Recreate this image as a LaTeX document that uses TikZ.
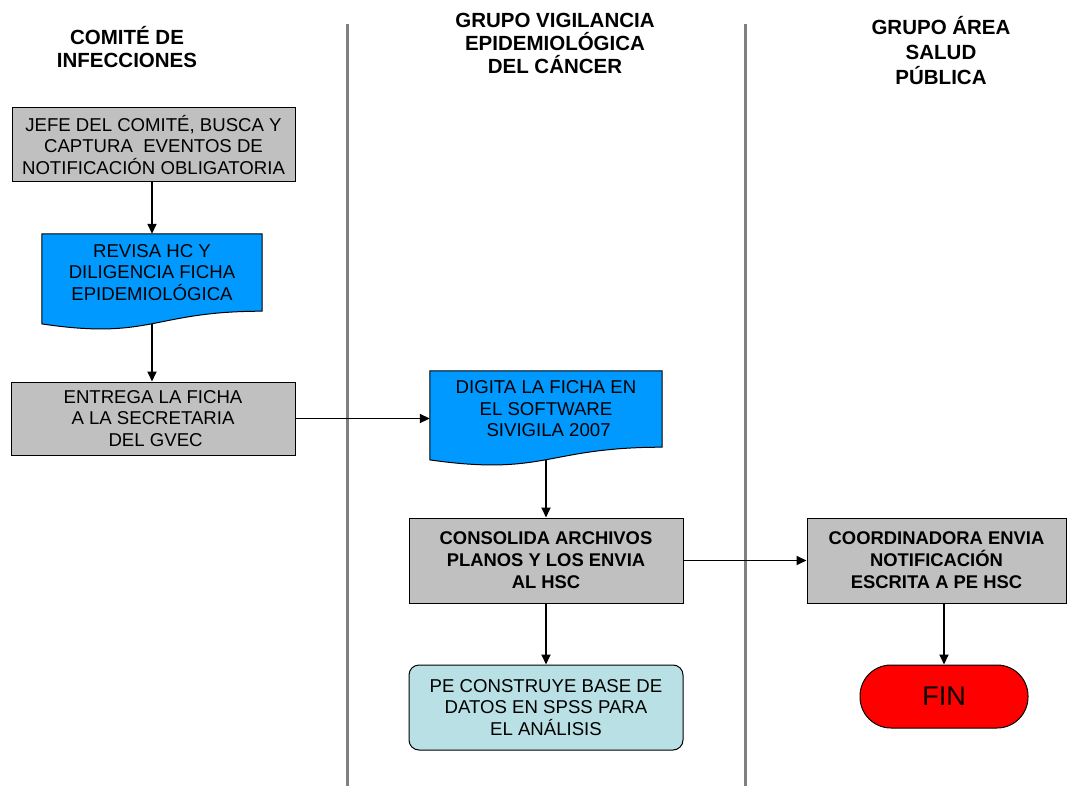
\documentclass[tikz,border=0pt]{standalone}
\usepackage{fontspec}
\setmainfont{Liberation Sans}
\usetikzlibrary{arrows.meta, backgrounds}

\definecolor{boxgray}{RGB}{192,192,192}
\definecolor{docblue}{RGB}{0,153,255}
\definecolor{paleteal}{RGB}{185,224,228}
\definecolor{lanegray}{RGB}{128,128,128}
\definecolor{finred}{RGB}{255,0,0}

\begin{document}
\begin{tikzpicture}[
    x=1pt, y=-1pt,
    header/.style={align=center, inner sep=0pt, font=\bfseries\fontsize{20.5}{23}\selectfont},
    process/.style={rectangle, draw, line width=1pt, fill=boxgray, inner sep=0pt, align=center, font=\fontsize{18.6}{21.5}\selectfont},
    boldprocess/.style={process, font=\bfseries\fontsize{18.4}{22}\selectfont},
    document/.style={rectangle, inner sep=0pt, align=center, font=\fontsize{18.6}{21.5}\selectfont},
    docshape/.style={draw, line width=1pt, fill=docblue},
    database/.style={process, fill=paleteal, rounded corners=10pt},
    terminal/.style={rectangle, draw, line width=1pt, fill=finred, rounded corners=31pt, inner sep=0pt, font=\fontsize{27}{30}\selectfont},
    lane/.style={draw=lanegray, line width=3pt},
    arrow/.style={-{Triangle[length=10pt,width=9pt]}, line width=1.8pt}
]
\useasboundingbox (0,0) rectangle (1068,786);

% Swim lane separators
\draw[lane] (347,24) -- (347,786);
\draw[lane] (745,24) -- (745,786);

% Lane headers
\node[header] (h1) at (127,47) {COMITÉ DE\\INFECCIONES};
\node[header] (h2) at (555,43) {GRUPO VIGILANCIA\\EPIDEMIOLÓGICA\\DEL CÁNCER};
\node[header, font=\bfseries\fontsize{20.5}{25}\selectfont] (h3) at (941,51) {GRUPO ÁREA\\SALUD\\PÚBLICA};

% Process steps
\node[process, minimum width=283pt, minimum height=74pt] (jefe) at (153.5,145)
    {JEFE DEL COMITÉ, BUSCA Y\\CAPTURA \ EVENTOS DE\\NOTIFICACIÓN OBLIGATORIA};
\node[document, minimum width=220pt, minimum height=77pt] (revisa) at (152,272.5)
    {REVISA HC Y\\DILIGENCIA FICHA\\EPIDEMIOLÓGICA};
\node[process, minimum width=284pt, minimum height=73pt] (entrega) at (153,418.5)
    {ENTREGA LA FICHA\\A LA SECRETARIA\\\ DEL GVEC};
\node[document, minimum width=232pt, minimum height=76pt] (digita) at (546,409)
    {DIGITA LA FICHA EN\\EL SOFTWARE\\\ SIVIGILA 2007};
\node[boldprocess, minimum width=274pt, minimum height=85pt] (consolida) at (546,560.5)
    {CONSOLIDA ARCHIVOS\\PLANOS Y LOS ENVIA\\AL HSC};
\node[database, minimum width=274pt, minimum height=85pt] (base) at (546,707.5)
    {PE CONSTRUYE BASE DE\\DATOS EN SPSS PARA\\EL ANÁLISIS};
\node[boldprocess, minimum width=259pt, minimum height=85pt] (coord) at (936.5,560.5)
    {COORDINADORA ENVIA\\NOTIFICACIÓN\\ESCRITA A PE HSC};
\node[terminal, minimum width=168pt, minimum height=63pt] (fin) at (944,696.5) {FIN};

% Document shapes with wavy bottom
\begin{scope}[on background layer]
\draw[docshape] (revisa.north west) -- (revisa.north east) -- (revisa.south east)
    .. controls +(-110,0) and +(110,16.5) .. ([yshift=-12.7pt]revisa.south west) -- cycle;
\draw[docshape] (digita.north west) -- (digita.north east) -- (digita.south east)
    .. controls +(-116,0) and +(116,16.5) .. ([yshift=-12.7pt]digita.south west) -- cycle;
\end{scope}
\coordinate (revisa-w) at ([yshift=-12.5pt]revisa.south);
\coordinate (digita-w) at ([yshift=-12.5pt]digita.south);

% Connectors
\draw[arrow] (jefe.south -| revisa.north) -- (revisa.north);
\draw[arrow] (revisa-w) -- (revisa-w |- entrega.north);
\draw[arrow] (entrega.east) -- (entrega.east -| digita.west);
\draw[arrow] (digita-w) -- (consolida.north);
\draw[arrow] (consolida.east) -- (coord.west);
\draw[arrow] (consolida.south) -- (base.north);
\draw[arrow] (coord.south -| fin.north) -- (fin.north);

\end{tikzpicture}
\end{document}
